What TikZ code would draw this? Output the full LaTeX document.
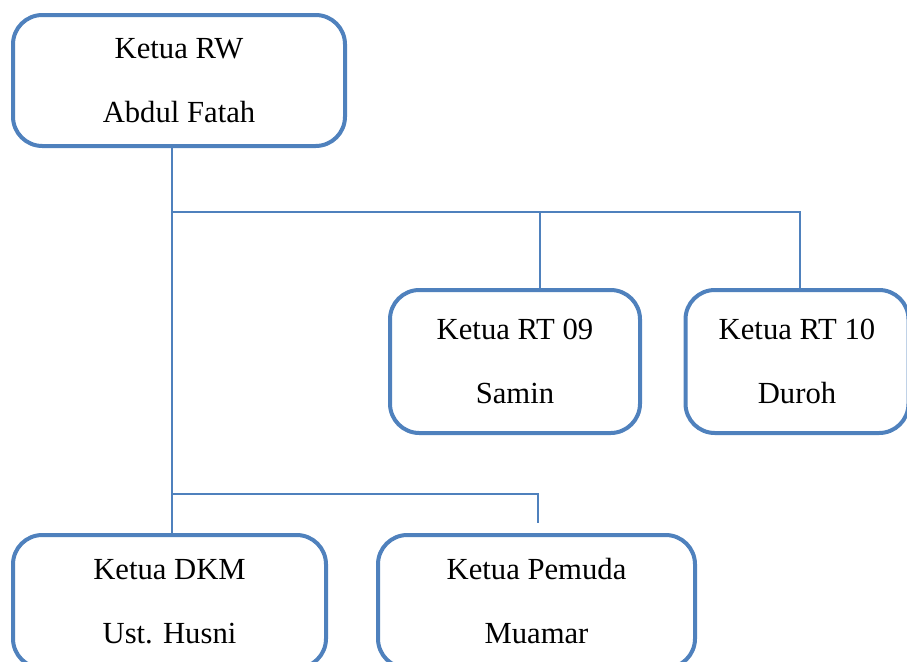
\documentclass[tikz,border=0pt]{standalone}
\usepackage{fontspec}
\setmainfont{Liberation Serif}
\definecolor{boxblue}{HTML}{4F81BD}
\begin{document}
\begin{tikzpicture}[x=0.75pt,y=-0.75pt,
  orgbox/.style={draw=boxblue, line width=3pt, rounded corners=22pt, fill=white,
    align=center, inner sep=0pt, font=\fontsize{23}{48}\selectfont},
  link/.style={draw=boxblue, line width=1.5pt}]
\useasboundingbox (0,0) rectangle (907,661);
\clip (0,0) rectangle (907,661);
\node[orgbox, minimum width=332*0.75pt, minimum height=131*0.75pt] (rw) at (179,80.5) {Ketua RW\\Abdul Fatah};
\node[orgbox, minimum width=250*0.75pt, minimum height=143*0.75pt] (rt09) at (515,361.5) {Ketua RT 09\\Samin};
\node[orgbox, minimum width=223*0.75pt, minimum height=143*0.75pt] (rt10) at (797,361.5) {Ketua RT 10\\Duroh};
\node[orgbox, minimum width=313*0.75pt, minimum height=133*0.75pt] (dkm) at (169.5,601.5) {Ketua DKM\\Ust. Husni};
\node[orgbox, minimum width=317*0.75pt, minimum height=133*0.75pt] (pem) at (536.5,601.5) {Ketua Pemuda\\Muamar};
\coordinate (bus) at (172,0);
\coordinate (j1) at (172,212);
\coordinate (j2) at (172,494);
\coordinate (t9) at (540,212);
\coordinate (t10) at (800,212);
\coordinate (pe) at (538,523);
\draw[link] (bus |- rw.south) -- (bus |- dkm.north);
\draw[link] (j1) -- (t10) -- (t10 |- rt10.north);
\draw[link] (t9) -- (t9 |- rt09.north);
\draw[link] (j2) -- (j2 -| pe) -- (pe);
\end{tikzpicture}
\end{document}
